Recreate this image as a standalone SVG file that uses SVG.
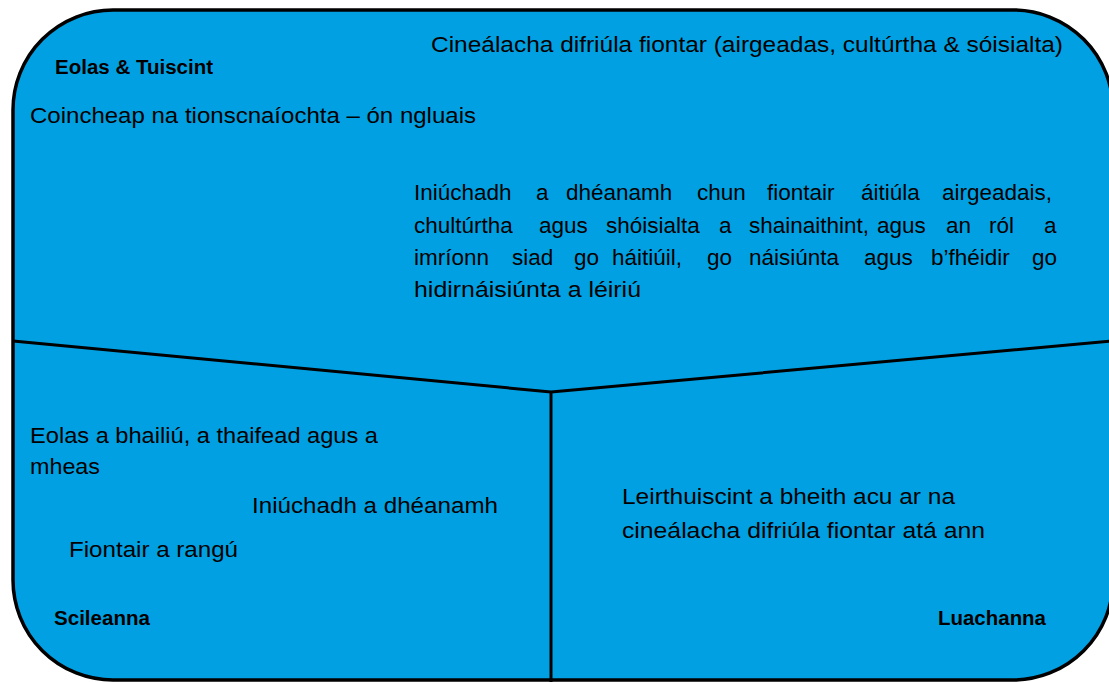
<svg xmlns="http://www.w3.org/2000/svg" width="1109" height="682" viewBox="0 0 1109 682">
<style>
.t{font-family:"Liberation Sans",Arial,sans-serif;font-size:22px;fill:#000}
.p{font-family:"Liberation Sans",Arial,sans-serif;font-size:22.5px;fill:#000}
.b{font-family:"Liberation Sans",Arial,sans-serif;font-size:20px;font-weight:bold;fill:#000}
.ln{stroke:#000;stroke-width:3;fill:none}
</style>
<rect width="1109" height="682" fill="#fff"/>
<g id="frame">
<rect x="13" y="10" width="1100" height="670" rx="100" ry="100" fill="#00A0E3" stroke="#000" stroke-width="3.5"/>
</g>
<g id="connectors">
<path class="ln" d="M13,341 L551,392 L1112,341"/>
<path class="ln" d="M551,392 L551,682"/>
</g>
<g id="eolas">
<text class="b" x="55" y="74" textLength="158" lengthAdjust="spacingAndGlyphs">Eolas &amp; Tuiscint</text>
<text class="t" x="431" y="52" textLength="632" lengthAdjust="spacingAndGlyphs">Cineálacha difriúla fiontar (airgeadas, cultúrtha &amp; sóisialta)</text>
<text class="t" x="30" y="123" textLength="446" lengthAdjust="spacingAndGlyphs">Coincheap na tionscnaíochta – ón ngluais</text>
<text class="p" y="200"><tspan x="414">Iniúchadh</tspan><tspan x="536">a</tspan><tspan x="566">dhéanamh</tspan><tspan x="697">chun</tspan><tspan x="767">fiontair</tspan><tspan x="861">áitiúla</tspan><tspan x="942">airgeadais,</tspan></text>
<text class="p" y="233"><tspan x="414">chultúrtha</tspan><tspan x="539">agus</tspan><tspan x="606">shóisialta</tspan><tspan x="719">a</tspan><tspan x="749">shainaithint,</tspan><tspan x="877">agus</tspan><tspan x="946">an</tspan><tspan x="989">ról</tspan><tspan x="1044">a</tspan></text>
<text class="p" y="265"><tspan x="414">imríonn</tspan><tspan x="512">siad</tspan><tspan x="574">go</tspan><tspan x="612">háitiúil,</tspan><tspan x="707">go</tspan><tspan x="749">náisiúnta</tspan><tspan x="864">agus</tspan><tspan x="931">b’fhéidir</tspan><tspan x="1032">go</tspan></text>
<text class="p" x="414" y="297" textLength="227" lengthAdjust="spacingAndGlyphs">hidirnáisiúnta a léiriú</text>
</g>
<g id="scileanna">
<text class="t" x="30" y="443" textLength="348" lengthAdjust="spacingAndGlyphs">Eolas a bhailiú, a thaifead agus a</text>
<text class="t" x="30" y="474" textLength="70" lengthAdjust="spacingAndGlyphs">mheas</text>
<text class="t" x="252" y="513" textLength="246" lengthAdjust="spacingAndGlyphs">Iniúchadh a dhéanamh</text>
<text class="t" x="69" y="557" textLength="169" lengthAdjust="spacingAndGlyphs">Fiontair a rangú</text>
<text class="b" x="54" y="625" textLength="96" lengthAdjust="spacingAndGlyphs">Scileanna</text>
</g>
<g id="luachanna">
<text class="t" x="622" y="504" textLength="333" lengthAdjust="spacingAndGlyphs">Leirthuiscint a bheith acu ar na</text>
<text class="t" x="622" y="538" textLength="363" lengthAdjust="spacingAndGlyphs">cineálacha difriúla fiontar atá ann</text>
<text class="b" x="938" y="625" textLength="108" lengthAdjust="spacingAndGlyphs">Luachanna</text>
</g>
</svg>
